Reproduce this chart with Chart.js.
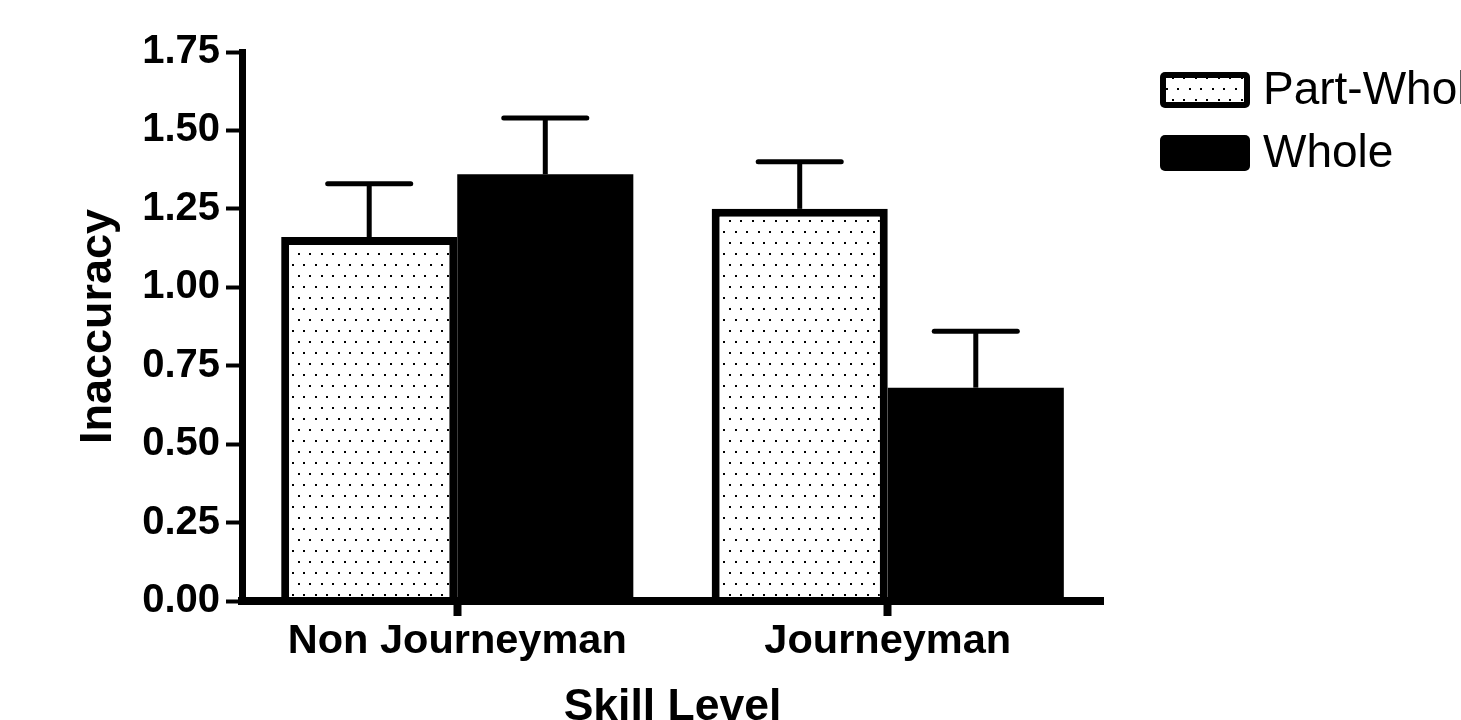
<!DOCTYPE html>
<html>
<head>
<meta charset="utf-8">
<title>Inaccuracy by Skill Level</title>
<script src="https://cdn.jsdelivr.net/npm/chart.js@4.4.1/dist/chart.umd.min.js"></script>
<style>
  html, body { margin: 0; padding: 0; background: #fff; overflow: hidden; }
  canvas { display: block; }
</style>
</head>
<body>
<canvas id="chart" width="1461" height="720"></canvas>
<script>
// Group means and standard errors of inaccuracy, by skill level
const skillLevels = ['Non Journeyman', 'Journeyman'];
const seriesNames = ['Part-Whole', 'Whole'];
const partWholeMean = [1.16, 1.25];
const partWholeSem = [0.17, 0.15];
const wholeMean = [1.36, 0.68];
const wholeSem = [0.18, 0.18];
const yTickValues = [0, 0.25, 0.5, 0.75, 1.0, 1.25, 1.5, 1.75];

const FONT = '"Liberation Sans", Arial, Helvetica, sans-serif';

// Stippled fill: staggered rows of small square dots
function makeDotPattern() {
  const tile = document.createElement('canvas');
  tile.width = 23;
  tile.height = 22;
  const g = tile.getContext('2d');
  g.fillStyle = '#fff';
  g.fillRect(0, 0, 23, 22);
  g.fillStyle = '#000';
  [[0, 0], [11, 0], [6, 11], [17, 11]].forEach(([x, y]) => g.fillRect(x, y, 2, 2));
  const p = g.createPattern(tile, 'repeat');
  p.setTransform(new DOMMatrix().translate(16, 0));
  return p;
}
const dots = makeDotPattern();

// Upper error whisker with a cap half as wide as the bar
const errorBars = {
  id: 'errorBars',
  afterDatasetsDraw(chart) {
    const ctx = chart.ctx;
    const yScale = chart.scales.y;
    chart.data.datasets.forEach((ds, di) => {
      const meta = chart.getDatasetMeta(di);
      meta.data.forEach((bar, i) => {
        const tip = yScale.getPixelForValue(ds.data[i] + ds.sem[i]);
        const half = bar.width / 4 - 2.5;
        ctx.save();
        ctx.strokeStyle = '#000';
        ctx.lineWidth = 5;
        ctx.lineCap = 'butt';
        ctx.beginPath();
        ctx.moveTo(bar.x, bar.y);
        ctx.lineTo(bar.x, tip);
        ctx.stroke();
        ctx.lineCap = 'round';
        ctx.beginPath();
        ctx.moveTo(bar.x - half, tip);
        ctx.lineTo(bar.x + half, tip);
        ctx.stroke();
        ctx.restore();
      });
    });
  }
};

// Legend to the right of the plot, swatch then series name
const sideLegend = {
  id: 'sideLegend',
  afterDraw(chart) {
    const ctx = chart.ctx;
    const x0 = chart.chartArea.right + 57;
    const boxW = 90, boxH = 36, firstTop = 72, rowStep = 63;
    chart.data.datasets.forEach((ds, i) => {
      const top = firstTop + i * rowStep;
      ctx.save();
      ctx.fillStyle = '#000';
      ctx.beginPath();
      ctx.roundRect(x0, top, boxW, boxH, 5);
      ctx.fill();
      if (ds.backgroundColor !== '#000') {
        ctx.fillStyle = ds.backgroundColor;
        ctx.fillRect(x0 + 6, top + 6, boxW - 12, boxH - 12);
      }
      ctx.fillStyle = '#000';
      ctx.font = '46px ' + FONT;
      ctx.textBaseline = 'middle';
      ctx.textAlign = 'left';
      ctx.fillText(ds.label, x0 + boxW + 13, top + boxH / 2 + 1);
      ctx.restore();
    });
  }
};

new Chart(document.getElementById('chart'), {
  type: 'bar',
  data: {
    labels: skillLevels,
    datasets: [
      {
        label: seriesNames[0],
        data: partWholeMean,
        sem: partWholeSem,
        backgroundColor: dots,
        borderColor: '#000',
        borderWidth: 8
      },
      {
        label: seriesNames[1],
        data: wholeMean,
        sem: wholeSem,
        backgroundColor: '#000',
        borderColor: '#000',
        borderWidth: 0
      }
    ]
  },
  options: {
    responsive: false,
    animation: false,
    events: [],
    datasets: {
      bar: { categoryPercentage: 0.818, barPercentage: 1.0 }
    },
    layout: { padding: { left: 0, top: 52, right: 358, bottom: 0 } },
    plugins: {
      legend: { display: false },
      tooltip: { enabled: false }
    },
    scales: {
      x: {
        offset: true,
        grid: {
          display: true,
          drawOnChartArea: false,
          drawTicks: true,
          offset: false,
          tickLength: 15,
          tickWidth: 8,
          tickColor: '#000'
        },
        border: { display: true, color: '#000', width: 8, z: 1 },
        ticks: {
          color: '#000',
          padding: 1,
          font: { family: FONT, size: 41.5, weight: 'bold' }
        },
        title: {
          display: true,
          text: 'Skill Level',
          color: '#000',
          font: { family: FONT, size: 44.5, weight: 'bold', lineHeight: 1 },
          padding: { top: 0, bottom: -10 }
        },
        afterFit(s) { s.height = 119; }
      },
      y: {
        min: 0,
        max: 1.75,
        afterBuildTicks(s) { s.ticks = yTickValues.map(v => ({ value: v })); },
        grid: {
          display: true,
          drawOnChartArea: false,
          drawTicks: true,
          tickLength: 16,
          tickWidth: 4,
          tickColor: '#000'
        },
        border: { display: true, color: '#000', width: 7, z: 1 },
        ticks: {
          color: '#000',
          padding: 6,
          font: { family: FONT, size: 40, weight: 'bold' },
          callback: v => Number(v).toFixed(2)
        },
        title: {
          display: true,
          text: 'Inaccuracy',
          color: '#000',
          font: { family: FONT, size: 45, weight: 'bold', lineHeight: 1 },
          padding: { top: 76, bottom: 0 }
        },
        afterFit(s) { s.width = 242; }
      }
    }
  },
  plugins: [errorBars, sideLegend]
});
</script>
</body>
</html>
